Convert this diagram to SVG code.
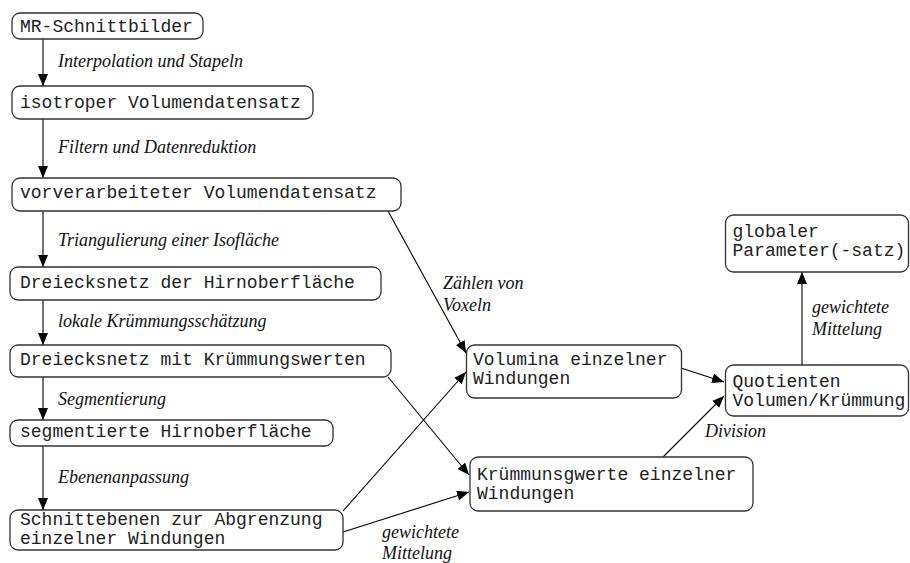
<svg xmlns="http://www.w3.org/2000/svg" width="910" height="563" viewBox="0 0 910 563">
<style>
.box{fill:#fff;stroke:#333;stroke-width:1.3}
.t{font-family:"Liberation Mono","Courier New",monospace;font-size:18px;fill:#222}
.l{font-family:"Liberation Serif","Times New Roman",serif;font-size:18px;font-style:italic;fill:#111}
.c{fill:none;stroke:#000;stroke-width:1.1}
</style>
<defs>
<marker id="ah" markerUnits="userSpaceOnUse" markerWidth="13" markerHeight="11" refX="12" refY="5" orient="auto">
<path d="M0,0 L12,5 L0,10 z" fill="#000"/>
</marker>
</defs>
<rect width="910" height="563" fill="#fff"/>
<g id="connectors">
<line class="c" x1="43" y1="39" x2="43" y2="86" marker-end="url(#ah)"/>
<line class="c" x1="43" y1="119" x2="43" y2="178" marker-end="url(#ah)"/>
<line class="c" x1="43" y1="211" x2="43" y2="267" marker-end="url(#ah)"/>
<line class="c" x1="43" y1="300" x2="43" y2="345" marker-end="url(#ah)"/>
<line class="c" x1="43" y1="377" x2="43" y2="420" marker-end="url(#ah)"/>
<line class="c" x1="43" y1="446" x2="43" y2="510" marker-end="url(#ah)"/>
<line class="c" x1="388" y1="211" x2="466" y2="353" marker-end="url(#ah)"/>
<line class="c" x1="388" y1="377" x2="469" y2="475" marker-end="url(#ah)"/>
<line class="c" x1="343" y1="511" x2="466" y2="372" marker-end="url(#ah)"/>
<line class="c" x1="343" y1="532" x2="469" y2="492" marker-end="url(#ah)"/>
<line class="c" x1="681" y1="368" x2="724" y2="382" marker-end="url(#ah)"/>
<line class="c" x1="663" y1="457" x2="724" y2="396" marker-end="url(#ah)"/>
<line class="c" x1="802" y1="365" x2="802" y2="272" marker-end="url(#ah)"/>
<text class="l" x="58" y="67">Interpolation und Stapeln</text>
<text class="l" x="58" y="153">Filtern und Datenreduktion</text>
<text class="l" x="58" y="246">Triangulierung einer Isofläche</text>
<text class="l" x="58" y="327">lokale Krümmungsschätzung</text>
<text class="l" x="58" y="405">Segmentierung</text>
<text class="l" x="58" y="483">Ebenenanpassung</text>
<text class="l" x="443" y="289">Zählen von</text>
<text class="l" x="443" y="311">Voxeln</text>
<text class="l" x="382" y="538">gewichtete</text>
<text class="l" x="382" y="559">Mittelung</text>
<text class="l" x="705" y="437">Division</text>
<text class="l" x="812" y="313">gewichtete</text>
<text class="l" x="812" y="335">Mittelung</text>
</g>
<g id="n1"><rect class="box" x="12" y="13" width="191" height="26" rx="8"/><text class="t" x="20" y="32">MR-Schnittbilder</text></g>
<g id="n2"><rect class="box" x="12" y="86" width="301" height="33" rx="8"/><text class="t" x="20" y="108">isotroper Volumendatensatz</text></g>
<g id="n3"><rect class="box" x="12" y="178" width="389" height="33" rx="8"/><text class="t" x="20" y="198">vorverarbeiteter Volumendatensatz</text></g>
<g id="n4"><rect class="box" x="10" y="267" width="371" height="33" rx="8"/><text class="t" x="20" y="288">Dreiecksnetz der Hirnoberfläche</text></g>
<g id="n5"><rect class="box" x="10" y="345" width="381" height="32" rx="8"/><text class="t" x="20" y="365">Dreiecksnetz mit Krümmungswerten</text></g>
<g id="n6"><rect class="box" x="10" y="420" width="323" height="26" rx="8"/><text class="t" x="20" y="437">segmentierte Hirnoberfläche</text></g>
<g id="n7"><rect class="box" x="10" y="510" width="333" height="40" rx="8"/><text class="t" x="20" y="525">Schnittebenen zur Abgrenzung</text><text class="t" x="20" y="544">einzelner Windungen</text></g>
<g id="n8"><rect class="box" x="466.5" y="345" width="215" height="53" rx="8"/><text class="t" x="473" y="365">Volumina einzelner</text><text class="t" x="473" y="384">Windungen</text></g>
<g id="n9"><rect class="box" x="470" y="457" width="283" height="54" rx="8"/><text class="t" x="477" y="480">Krümmunsgwerte einzelner</text><text class="t" x="477" y="499">Windungen</text></g>
<g id="n10"><rect class="box" x="725.5" y="365" width="183" height="51" rx="8"/><text class="t" x="732.5" y="387">Quotienten</text><text class="t" x="732.5" y="406">Volumen/Krümmung</text></g>
<g id="n11"><rect class="box" x="725.5" y="215" width="183" height="57" rx="8"/><text class="t" x="732.5" y="237">globaler</text><text class="t" x="732.5" y="256">Parameter(-satz)</text></g>
</svg>
